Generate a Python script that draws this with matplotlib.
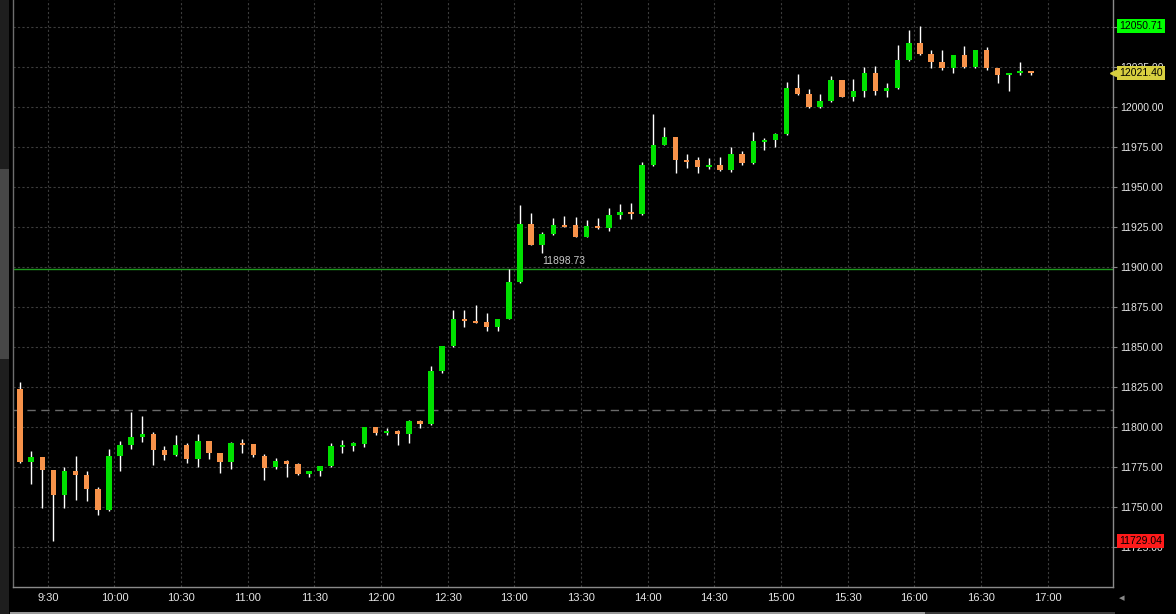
import numpy as np
import matplotlib
matplotlib.use('Agg')
import matplotlib.pyplot as plt
from matplotlib.patches import Rectangle

# 5 minute bars, first bar opens at 9:15
start_time = '9:15'
bar_minutes = 5

opens = [11823.9, 11778.5, 11781.4, 11773.3, 11757.7, 11772.7, 11770.2, 11761.4, 11748.3, 11782.25,
         11788.9, 11793.9, 11795.6, 11785.8, 11782.9, 11789.1, 11780.4, 11791.25, 11783.75, 11778.3,
         11790.4, 11789.6, 11782.1, 11775.0, 11779.1, 11777.1, 11770.8, 11772.9, 11775.8, 11787.9,
         11788.3, 11789.6, 11800.2, 11796.25, 11797.9, 11795.8, 11804.1, 11802.1, 11835.4, 11850.8,
         11867.9, 11866.6, 11865.8, 11862.9, 11867.9, 11890.8, 11927.1, 11913.75, 11920.8, 11926.6,
         11926.6, 11919.1, 11925.8, 11924.6, 11932.9, 11934.6, 11933.3, 11963.75, 11976.6, 11981.25,
         11967.1, 11967.1, 11962.9, 11964.1, 11960.8, 11970.8, 11965.4, 11978.3, 11979.6, 11983.3,
         12012.1, 12008.3, 12000.0, 12003.75, 12017.1, 12006.6, 12010.4, 12021.25, 12010.4, 12012.1,
         12029.6, 12040.4, 12033.3, 12028.3, 12024.6, 12032.9, 12025.4, 12035.8, 12024.6, 12020.0,
         12021.25, 12022.5]
highs = [11828.5, 11785.2, 11781.5, 11773.5, 11775.2, 11782.25, 11772.7, 11762.7, 11786.4, 11791.4,
         11809.75, 11807.0, 11796.9, 11788.3, 11795.4, 11790.0, 11795.8, 11791.6, 11784.1, 11790.8,
         11792.5, 11789.6, 11783.3, 11780.8, 11779.6, 11777.5, 11772.9, 11775.8, 11790.0, 11792.1,
         11790.8, 11800.4, 11800.4, 11799.6, 11798.3, 11804.6, 11804.6, 11838.3, 11850.8, 11873.3,
         11873.3, 11876.25, 11871.25, 11867.9, 11899.1, 11939.1, 11933.75, 11922.1, 11930.8, 11932.1,
         11931.25, 11929.6, 11930.8, 11937.1, 11939.6, 11940.0, 11965.8, 11995.8, 11987.9, 11981.6,
         11970.8, 11968.75, 11968.3, 11968.75, 11975.0, 11972.9, 11984.6, 11980.8, 11984.1, 12015.8,
         12020.8, 12011.25, 12008.3, 12019.6, 12017.1, 12017.5, 12025.4, 12025.8, 12015.4, 12039.1,
         12048.3, 12050.71, 12035.8, 12035.8, 12032.9, 12038.3, 12035.8, 12037.5, 12024.6, 12021.25,
         12028.3, 12022.9]
lows = [11777.5, 11764.75, 11749.75, 11729.04, 11749.75, 11754.6, 11753.9, 11745.2, 11747.9, 11772.7,
        11786.4, 11791.0, 11776.4, 11779.6, 11782.1, 11777.9, 11775.0, 11780.4, 11771.6, 11774.1,
        11784.1, 11781.25, 11767.1, 11773.75, 11768.75, 11770.0, 11769.1, 11769.6, 11775.4, 11784.1,
        11785.4, 11787.9, 11795.4, 11795.4, 11788.75, 11790.4, 11799.6, 11801.6, 11834.1, 11850.0,
        11862.9, 11865.0, 11860.4, 11860.4, 11867.5, 11890.4, 11913.75, 11909.1, 11920.4, 11925.0,
        11918.75, 11918.75, 11923.75, 11922.9, 11930.4, 11930.4, 11932.9, 11963.3, 11976.25, 11959.1,
        11962.1, 11959.1, 11961.6, 11960.4, 11959.6, 11963.75, 11964.6, 11973.3, 11975.0, 11982.9,
        12007.9, 11999.6, 11999.6, 12003.3, 12006.25, 12004.1, 12006.25, 12007.5, 12006.25, 12011.25,
        12029.1, 12032.5, 12024.6, 12023.3, 12021.6, 12024.6, 12024.6, 12023.3, 12015.4, 12010.0,
        12020.0, 12020.0]
closes = [11778.1, 11781.4, 11773.5, 11757.7, 11772.7, 11770.2, 11761.4, 11748.5, 11782.1, 11788.9,
          11793.9, 11795.8, 11785.8, 11782.9, 11789.1, 11780.4, 11791.25, 11784.1, 11778.3, 11790.4,
          11789.1, 11782.5, 11774.6, 11779.1, 11777.1, 11770.8, 11772.5, 11775.8, 11788.3, 11789.1,
          11790.0, 11800.0, 11796.6, 11797.9, 11795.8, 11804.1, 11802.1, 11835.4, 11850.8, 11867.5,
          11866.6, 11865.4, 11862.9, 11867.5, 11890.8, 11927.1, 11913.75, 11920.8, 11926.6, 11925.4,
          11919.1, 11925.8, 11924.6, 11932.9, 11934.6, 11933.3, 11963.75, 11976.6, 11981.6, 11967.1,
          11965.8, 11962.9, 11964.1, 11960.8, 11970.8, 11965.4, 11979.1, 11979.6, 11983.3, 12012.1,
          12008.3, 12000.0, 12003.75, 12017.1, 12006.6, 12010.0, 12021.25, 12010.4, 12012.1, 12029.6,
          12040.4, 12033.3, 12028.3, 12024.6, 12032.9, 12025.4, 12035.8, 12024.6, 12020.0, 12021.25,
          12022.5, 12021.4]

time_labels = ['9:30', '10:00', '10:30', '11:00', '11:30', '12:00', '12:30', '13:00',
               '13:30', '14:00', '14:30', '15:00', '15:30', '16:00', '16:30', '17:00']
price_ticks = [11725, 11750, 11775, 11800, 11825, 11850, 11875, 11900,
               11925, 11950, 11975, 12000, 12025, 12050]

level_line = 11898.73
prev_close = 11810.8
day_high = 12050.71
day_low = 11729.04
last_price = 12021.40

#-------------------------------------------------------------------------
def to_min(s):
  h, m = s.split(':')
  return int(h)*60 + int(m)

GREEN = '#00e000'
ORANGE = '#f7924a'
GRID = '#3c3c3c'
TXT = '#e6e6e6'

opens = np.array(opens); closes = np.array(closes)
highs = np.array(highs); lows = np.array(lows)
n = len(opens)
x = to_min(start_time) + bar_minutes*np.arange(n) + bar_minutes/2.0

fig = plt.figure(figsize=(11.76, 6.14), dpi=100, facecolor='black')
ax = fig.add_axes([12.5/1176, 27.5/614, 1100.5/1176, 586.5/614], facecolor='black')

# left scroll strip
fig.patches.append(Rectangle((0, 0), 9/1176, 1, transform=fig.transFigure,
                             facecolor='#1e1e1e', edgecolor='none', zorder=0))
fig.patches.append(Rectangle((0, 1 - 359/614), 8.5/1176, 190/614, transform=fig.transFigure,
                             facecolor='#474747', edgecolor='none', zorder=1))
# bottom scrollbar
fig.patches.append(Rectangle((10/1176, 0), 915/1176, 2.5/614, transform=fig.transFigure,
                             facecolor='#9a9a9a', edgecolor='none'))
fig.patches.append(Rectangle((925/1176, 0), 190/1176, 2.5/614, transform=fig.transFigure,
                             facecolor='#3a3a3a', edgecolor='none'))

# candles
up = closes >= opens
cols = np.where(up, GREEN, ORANGE)
body_lo = np.minimum(opens, closes)
body_h = np.maximum(np.abs(closes - opens), 0.7)
ax.vlines(x, lows, highs, color='white', lw=1.0, zorder=3)
ax.bar(x, body_h, bottom=body_lo, width=2.45, color=cols, edgecolor='none', zorder=4)

# reference lines
ax.axhline(level_line, color='#1f9a1f', lw=1.0, zorder=2)
ax.axhline(prev_close, color='#6a6a6a', lw=1.0, dashes=(6, 4), zorder=2)
ax.annotate('%.2f' % level_line, xy=(802, level_line), xytext=(0, 2.5),
            textcoords='offset points', ha='center', va='bottom',
            color='#c8c8c8', fontsize=7.5, family='Liberation Sans')

# axes setup
ax.set_xlim(554.1, 1049.4)
ax.set_ylim(11700.4, 12067.1)
ax.set_xticks([to_min(t) for t in time_labels])
ax.set_xticklabels(time_labels)
ax.set_yticks(price_ticks)
ax.set_yticklabels(['%.2f' % p for p in price_ticks])
ax.yaxis.tick_right()
ax.tick_params(axis='x', length=0, pad=5, colors=TXT, labelsize=8)
ax.tick_params(axis='y', length=3, width=0.8, color='#888888', pad=2.5,
               colors=TXT, labelsize=7.5)
ax.tick_params(axis='y', color='#888888')
for lab in ax.get_xticklabels() + ax.get_yticklabels():
  lab.set_family('Liberation Sans')
ax.grid(True, color=GRID, lw=0.8, linestyle=(0, (2, 2)), zorder=1)
ax.set_axisbelow(True)
ax.spines['top'].set_visible(False)
ax.spines['left'].set_color('#6e6e6e')
ax.spines['bottom'].set_color('#8a8a8a')
ax.spines['right'].set_color('#8a8a8a')
for s in ['left', 'bottom', 'right']:
  ax.spines[s].set_linewidth(1.0)

# price flags on the right axis
flags = [(day_high, '#00ff00'), (last_price, '#d8d040'), (day_low, '#ff1a1a')]
for val, fc in flags:
  ax.annotate('%.2f' % val, xy=(1.0, val), xycoords=('axes fraction', 'data'),
              xytext=(4.5, 0), textcoords='offset points', ha='left', va='center',
              color='black', fontsize=7.5, family='Liberation Sans',
              bbox=dict(boxstyle='square,pad=0.2', fc=fc, ec='none'),
              annotation_clip=False, zorder=10)
ax.plot([1.0], [last_price], marker='<', ms=4, color='#d8d040',
        transform=ax.get_yaxis_transform(), clip_on=False, zorder=10)

fig.text(1119/1176, 1 - 598/614, '\u25c2', color='#888888', fontsize=8,
         ha='left', va='center', family='DejaVu Sans')

fig.savefig('out.png', dpi=100, facecolor='black')
